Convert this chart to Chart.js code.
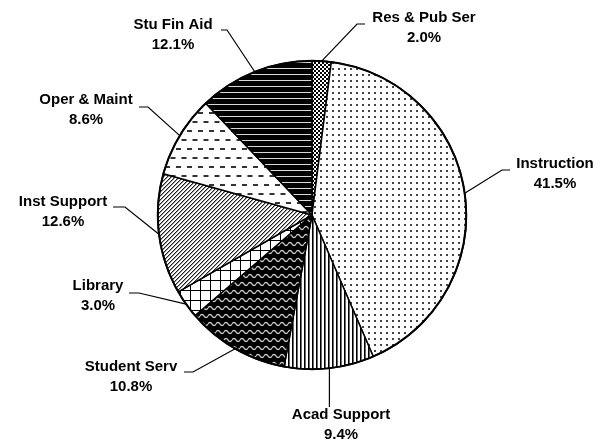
<!DOCTYPE html>
<html>
<head>
<meta charset="utf-8">
<script src="https://cdn.jsdelivr.net/npm/chart.js@4/dist/chart.umd.min.js"></script>
<style>
  html, body { margin: 0; padding: 0; background: #fff; }
  #wrap { width: 607px; height: 446px; }
</style>
</head>
<body>
<div id="wrap"><canvas id="pieChart" width="607" height="446"></canvas></div>
<script>
// categories in drawing order (clockwise from 12 o'clock)
const categories = ['Res & Pub Ser', 'Instruction', 'Acad Support', 'Student Serv', 'Library', 'Inst Support', 'Oper & Maint', 'Stu Fin Aid'];
const shares = [2.0, 41.5, 9.4, 10.8, 3.0, 12.6, 8.6, 12.1];
const shareLabels = ['2.0%', '41.5%', '9.4%', '10.8%', '3.0%', '12.6%', '8.6%', '12.1%'];

// label placement (text centre x, first line y) and leader elbow / end points
const labelPlace = [
    { x: 424, y: 18,  elbow: [357, 24],  end: [365, 24] },
    { x: 555, y: 164, elbow: [502, 170], end: [510, 170] },
    { x: 341, y: 415, elbow: [null, 407], end: null },
    { x: 131, y: 367, elbow: [193, 372], end: [184, 372] },
    { x: 98,  y: 286, elbow: [139, 293], end: [129, 293] },
    { x: 63,  y: 202, elbow: [125, 207], end: [113, 207] },
    { x: 86,  y: 100, elbow: [148, 107], end: [139, 107] },
    { x: 173, y: 25,  elbow: [227, 30],  end: [221, 30] }
];

const canvas = document.getElementById('pieChart');
const ctx = canvas.getContext('2d');

// little helper that builds a repeating fill from a tile drawing
function makePattern(w, h, draw) {
    const tile = document.createElement('canvas');
    tile.width = w;
    tile.height = h;
    const g = tile.getContext('2d');
    draw(g, w, h);
    return ctx.createPattern(tile, 'repeat');
}

const patterns = [
    // Res & Pub Ser - small checker
    makePattern(4, 4, (g) => {
        g.fillStyle = '#fff'; g.fillRect(0, 0, 4, 4);
        g.fillStyle = '#000'; g.fillRect(0, 0, 2, 2); g.fillRect(2, 2, 2, 2);
    }),
    // Instruction - sparse dots
    makePattern(6, 6, (g) => {
        g.fillStyle = '#fff'; g.fillRect(0, 0, 6, 6);
        g.fillStyle = '#444'; g.fillRect(2, 2, 2, 2);
    }),
    // Acad Support - vertical lines
    makePattern(4, 4, (g) => {
        g.fillStyle = '#fff'; g.fillRect(0, 0, 4, 4);
        g.fillStyle = '#000'; g.fillRect(0, 0, 1, 4);
        g.fillStyle = '#666'; g.fillRect(1, 0, 1, 4);
    }),
    // Student Serv - black with light waves
    makePattern(8, 8, (g) => {
        g.fillStyle = '#000'; g.fillRect(0, 0, 8, 8);
        g.strokeStyle = '#c8c8c8'; g.lineWidth = 1.3;
        g.beginPath();
        for (let i = 0; i <= 16; i++) {
            const x = i / 2;
            const y = 4 - 1.6 * Math.sin(Math.PI * 2 * x / 8);
            if (i === 0) g.moveTo(x, y); else g.lineTo(x, y);
        }
        g.stroke();
    }),
    // Library - open grid
    makePattern(10, 10, (g) => {
        g.fillStyle = '#fff'; g.fillRect(0, 0, 10, 10);
        g.fillStyle = '#000'; g.fillRect(0, 0, 10, 1); g.fillRect(0, 0, 1, 10);
    }),
    // Inst Support - dense up diagonals
    makePattern(4, 4, (g) => {
        g.fillStyle = '#fff'; g.fillRect(0, 0, 4, 4);
        for (let i = 0; i < 4; i++) {
            g.fillStyle = '#222'; g.fillRect(i, 3 - i, 1, 1);
            g.fillStyle = '#999'; g.fillRect((i + 1) % 4, 3 - i, 1, 1);
        }
    }),
    // Oper & Maint - staggered dashes
    makePattern(11, 18, (g) => {
        g.fillStyle = '#fff'; g.fillRect(0, 0, 11, 18);
        g.fillStyle = '#333'; g.fillRect(0, 4, 5, 2); g.fillRect(5.5, 13, 5, 2);
    }),
    // Stu Fin Aid - black with thin light horizontal lines
    makePattern(6, 6, (g) => {
        g.fillStyle = '#000'; g.fillRect(0, 0, 6, 6);
        g.fillStyle = '#d8d8d8'; g.fillRect(0, 2, 6, 1);
    })
];

// draws the outer ring, leader lines and the two-line labels
const labelPlugin = {
    id: 'pieLabels',
    afterDatasetsDraw(chart) {
        const c = chart.ctx;
        const arcs = chart.getDatasetMeta(0).data;
        if (!arcs.length) return;
        const cx = arcs[0].x, cy = arcs[0].y, r = arcs[0].outerRadius;

        c.save();
        c.strokeStyle = '#000';
        c.lineWidth = 2;
        c.beginPath();
        c.arc(cx, cy, r, 0, Math.PI * 2);
        c.stroke();

        c.lineWidth = 1.2;
        c.font = 'bold 15px "Liberation Sans", Arial, sans-serif';
        c.fillStyle = '#000';
        c.textAlign = 'center';
        c.textBaseline = 'middle';

        arcs.forEach((arc, i) => {
            const mid = (arc.startAngle + arc.endAngle) / 2;
            const px = cx + Math.cos(mid) * r;
            const py = cy + Math.sin(mid) * r;
            const lp = labelPlace[i];
            const ex = lp.elbow[0] === null ? px : lp.elbow[0];

            c.beginPath();
            c.moveTo(px, py);
            c.lineTo(ex, lp.elbow[1]);
            if (lp.end) c.lineTo(lp.end[0], lp.end[1]);
            c.stroke();

            c.fillText(categories[i], lp.x, lp.y);
            c.fillText(shareLabels[i], lp.x, lp.y + 20);
        });
        c.restore();
    }
};

new Chart(ctx, {
    type: 'pie',
    data: {
        labels: categories,
        datasets: [{
            data: shares,
            backgroundColor: patterns,
            borderColor: '#000',
            borderWidth: 1.5
        }]
    },
    options: {
        responsive: false,
        animation: false,
        layout: {
            padding: { left: 157, right: 140, top: 60, bottom: 76 }
        },
        plugins: {
            legend: { display: false },
            tooltip: { enabled: false }
        }
    },
    plugins: [labelPlugin]
});
</script>
</body>
</html>
